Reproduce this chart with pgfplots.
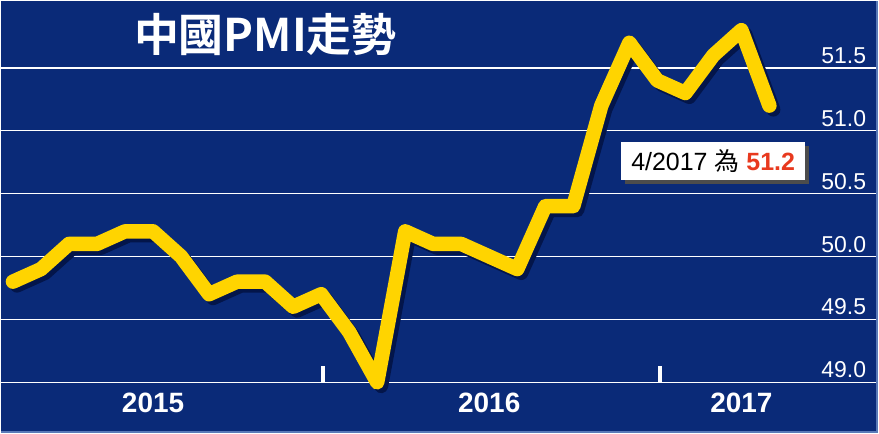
\documentclass[border=0pt]{standalone}
\usepackage{fontspec}
\setmainfont{Liberation Sans}
\newfontfamily\cjk{Noto Sans CJK TC}[BoldFont={Noto Sans CJK TC Bold}]
\usepackage{pgfplots}
\usepackage{pgfplotstable}
\pgfplotsset{compat=1.18}
\definecolor{bgblue}{HTML}{0A2A78}
\definecolor{pmiyellow}{HTML}{FFD400}
\definecolor{shadowblue}{HTML}{03154A}
\definecolor{annred}{HTML}{E8391E}
\definecolor{borderblue}{HTML}{5A7AB8}
\pgfplotstableread{
idx pmi
0 49.8
1 49.9
2 50.1
3 50.1
4 50.2
5 50.2
6 50.0
7 49.7
8 49.8
9 49.8
10 49.6
11 49.7
12 49.4
13 49.0
14 50.2
15 50.1
16 50.1
17 50.0
18 49.9
19 50.4
20 50.4
21 51.2
22 51.7
23 51.4
24 51.3
25 51.6
26 51.8
27 51.2
}\pmidata
\tikzset{yearlab/.style={font=\fontsize{28}{28}\selectfont\bfseries}}
\begin{document}
\begin{tikzpicture}
\begin{axis}[
  scale only axis, width=879pt, height=433pt,
  xmin=-0.4275, xmax=30.887, ymin=48.595, ymax=52.032,
  axis background/.style={fill=bgblue},
  axis line style={draw=none},
  xtick=\empty,
  ytick={49,49.5,50,50.5,51,51.5},
  yticklabel pos=right,
  major tick length=0pt,
  ymajorgrids, grid style={white, line width=1.4pt},
  yticklabel style={anchor=south east, inner sep=0pt, text=white, font=\fontsize{23}{23}\selectfont, xshift=-12pt, yshift=4pt,
    /pgf/number format/fixed, /pgf/number format/fixed zerofill, /pgf/number format/precision=1,
    /pgf/number format/assume math mode=true},
  clip=false,
]
\draw[borderblue, line width=2pt] (rel axis cs:0,0.0023) -- (rel axis cs:0.9989,0.0023) -- (rel axis cs:0.9989,1);
\addplot[shadowblue, line width=14pt, line join=round, line cap=round, xshift=4pt, yshift=-4pt] table[x=idx, y=pmi] {\pmidata};
\addplot[pmiyellow, line width=14.5pt, line join=round, line cap=round] table[x=idx, y=pmi] {\pmidata};
% small separators
\draw[white, line width=4pt] (axis cs:11.08,49) -- (axis cs:11.08,49.127);
\draw[white, line width=4pt] (axis cs:23.08,49) -- (axis cs:23.08,49.127);
% year labels
\node[text=white, yearlab] at (axis cs:5,48.833) {2015};
\node[text=white, yearlab] at (axis cs:17,48.833) {2016};
\node[text=white, yearlab] at (axis cs:26,48.833) {2017};
% title
\node[text=white, font=\fontsize{45}{45}\selectfont\cjk\bfseries] at (axis cs:9.01,51.762) {中國PMI走勢};
% annotation
\node[fill=black!70, minimum width=185pt, minimum height=38pt, inner sep=0pt] at ([xshift=4pt,yshift=-4pt]axis cs:24.99,50.762) {};
\node[fill=white, minimum width=185pt, minimum height=38pt, inner sep=0pt, font=\fontsize{25}{25}\selectfont] at (axis cs:24.99,50.762) {4/2017 {\cjk 為} \textcolor{annred}{\bfseries 51.2}};
\end{axis}
\end{tikzpicture}
\end{document}
